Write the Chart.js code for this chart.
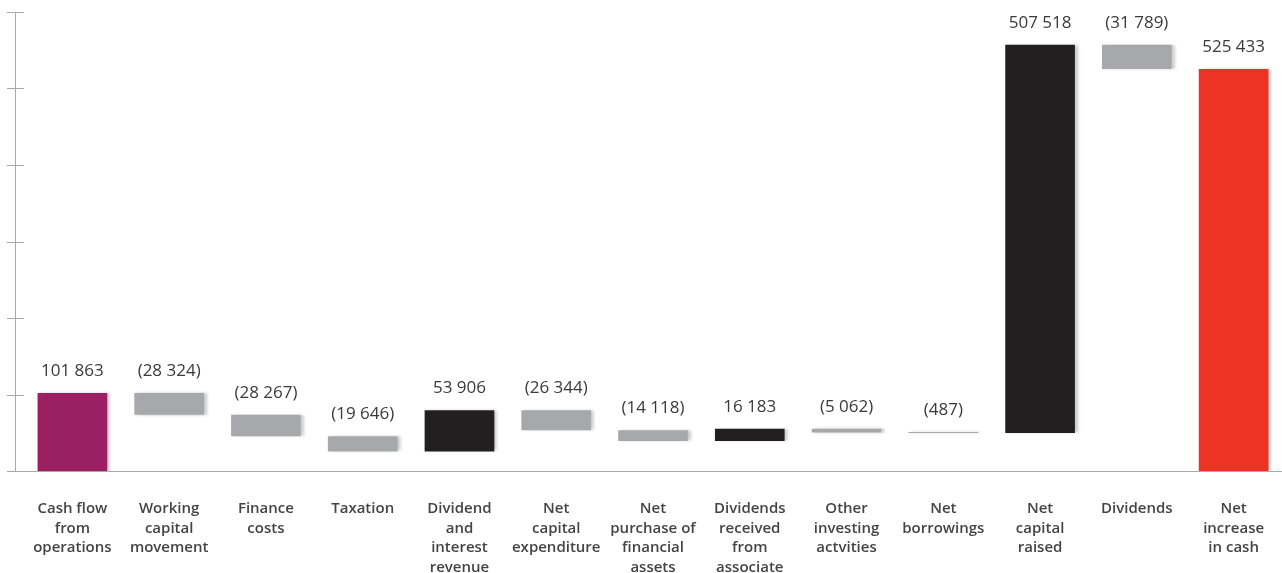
<!DOCTYPE html>
<html>
<head>
<meta charset="utf-8">
<script src="https://cdn.jsdelivr.net/npm/chart.js@4"></script>
<style>
  html, body { margin: 0; padding: 0; background: #fff; }
  #wrap { width: 1282px; height: 573px; }
</style>
</head>
<body>
<div id="wrap"><canvas id="cashFlow"></canvas></div>
<script>
// cash flow bridge, values in R'000
var categories = [
  ["Cash flow", "from", "operations"],
  ["Working", "capital", "movement"],
  ["Finance", "costs"],
  ["Taxation"],
  ["Dividend", "and", "interest", "revenue"],
  ["Net", "capital", "expenditure"],
  ["Net", "purchase of", "financial", "assets"],
  ["Dividends", "received", "from", "associate"],
  ["Other", "investing", "actvities"],
  ["Net", "borrowings"],
  ["Net", "capital", "raised"],
  ["Dividends"],
  ["Net", "increase", "in cash"]
];
var movements = [101863, -28324, -28267, -19646, 53906, -26344, -14118, 16183, -5062, -487, 507518, -31789];
var netIncrease = 525433;
var yTicks = [0, 100000, 200000, 300000, 400000, 500000, 600000];

var PURPLE = '#9b2063', GREY = '#a7a8ab', BLACK = '#231f20', RED = '#ee3224';

// floating bars: each step runs from the running total to the new total
var ranges = [], colours = [], running = 0;
movements.forEach(function (v, i) {
  ranges.push([running, running + v]);
  running += v;
  colours.push(i === 0 ? PURPLE : (v < 0 ? GREY : BLACK));
});
ranges.push([0, netIncrease]);
colours.push(RED);
var shown = movements.concat([netIncrease]);

function fmt(v) {
  var s = Math.abs(v).toString().replace(/\B(?=(\d{3})+(?!\d))/g, ' ');
  return v < 0 ? '(' + s + ')' : s;
}

var decor = {
  id: 'decor',
  beforeDatasetsDraw: function (chart) {
    var ctx = chart.ctx;
    ctx.save();
    ctx.shadowColor = 'rgba(0,0,0,0.22)';
    ctx.shadowBlur = 3;
    ctx.shadowOffsetX = 3;
  },
  afterDatasetsDraw: function (chart) {
    var ctx = chart.ctx;
    ctx.restore();
    var y = chart.scales.y, area = chart.chartArea;
    var ax = area.left - 9;
    ctx.save();
    ctx.strokeStyle = '#a9a9a9';
    ctx.lineWidth = 1;
    ctx.beginPath();
    ctx.moveTo(ax + 0.5, y.getPixelForValue(yTicks[yTicks.length - 1]));
    ctx.lineTo(ax + 0.5, y.getPixelForValue(0));
    ctx.moveTo(ax, Math.round(y.getPixelForValue(0)) + 0.5);
    ctx.lineTo(chart.width, Math.round(y.getPixelForValue(0)) + 0.5);
    yTicks.forEach(function (t) {
      var py = Math.round(y.getPixelForValue(t)) + 0.5;
      ctx.moveTo(ax - 8, py);
      ctx.lineTo(ax + 9, py);
    });
    ctx.stroke();

    // value labels above each bar
    ctx.fillStyle = '#3a3a3a';
    ctx.font = '17px "Open Sans"';
    ctx.textAlign = 'center';
    ctx.textBaseline = 'middle';
    chart.getDatasetMeta(0).data.forEach(function (bar, i) {
      var top = Math.min(bar.y, bar.base);
      ctx.fillText(fmt(shown[i]), bar.x, top - 22);
    });
    ctx.restore();
  }
};

new Chart(document.getElementById('cashFlow'), {
  type: 'bar',
  data: {
    labels: categories,
    datasets: [{
      data: ranges,
      backgroundColor: colours,
      borderWidth: 0,
      borderSkipped: false,
      minBarLength: 1,
      barPercentage: 0.72,
      categoryPercentage: 1
    }]
  },
  options: {
    responsive: true,
    maintainAspectRatio: false,
    animation: false,
    layout: { padding: { left: 24, right: 0, top: 12, bottom: 0 } },
    plugins: { legend: { display: false }, tooltip: { enabled: false } },
    scales: {
      x: {
        grid: { display: false, drawTicks: false },
        border: { display: false },
        ticks: {
          color: '#444444',
          font: { family: '"Open Sans"', size: 15, weight: '600', lineHeight: 1.3 },
          padding: 28,
          maxRotation: 0,
          autoSkip: false
        },
        afterFit: function (scale) {
          scale.height = 102;
          scale.paddingLeft = 0;
          scale.paddingRight = 0;
        }
      },
      y: {
        display: false,
        min: 0,
        max: 600000
      }
    }
  },
  plugins: [decor]
});
</script>
</body>
</html>
